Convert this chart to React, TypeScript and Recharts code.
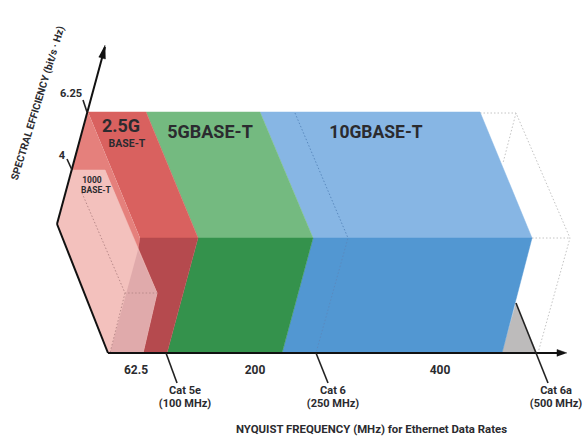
import React from "react";
import {
  ScatterChart,
  Scatter,
  XAxis,
  YAxis,
  ReferenceDot,
} from "recharts";

// outlines of the faces, in diagram units measured from the axes origin
const blueTop = [
  { x: 152, y: 241 },
  { x: 372, y: 241 },
  { x: 424, y: 115 },
  { x: 205, y: 115 },
];
const greenTop = [
  { x: 38, y: 241 },
  { x: 152, y: 241 },
  { x: 205, y: 115 },
  { x: 90, y: 115 },
];
const redTop = [
  { x: -20, y: 241 },
  { x: 38, y: 241 },
  { x: 90, y: 115 },
  { x: 32, y: 115 },
];
const redBand = [
  { x: -20, y: 241 },
  { x: -36, y: 183 },
  { x: -3, y: 183 },
  { x: 30, y: 103 },
  { x: 32, y: 115 },
];
const pinkFace = [
  { x: -36, y: 183 },
  { x: -3, y: 183 },
  { x: 49, y: 60 },
  { x: 35, y: 0 },
  { x: 0, y: 0 },
  { x: -51, y: 129 },
];
const pinkShade = [
  { x: 30, y: 103 },
  { x: 49, y: 60 },
  { x: 35, y: 0 },
  { x: 2, y: 0 },
];
const redFront = [
  { x: 32, y: 115 },
  { x: 90, y: 115 },
  { x: 59, y: 0 },
  { x: 35, y: 0 },
  { x: 49, y: 60 },
  { x: 30, y: 103 },
];
const greenFront = [
  { x: 90, y: 115 },
  { x: 205, y: 115 },
  { x: 174, y: 0 },
  { x: 59, y: 0 },
];
const blueFront = [
  { x: 205, y: 115 },
  { x: 424, y: 115 },
  { x: 394, y: 0 },
  { x: 174, y: 0 },
];
const greyWedge = [
  { x: 408, y: 50 },
  { x: 394, y: 0 },
  { x: 429, y: 0 },
];

const depthAxis = [
  { x: 0, y: 0 },
  { x: -51, y: 129 },
];
const efficiencyAxis = [
  { x: -51, y: 129 },
  { x: -3, y: 306 },
];
const efficiencyArrow = [
  { x: -3, y: 308 },
  { x: -2.6, y: 294 },
  { x: -9.4, y: 296 },
];
const frequencyAxis = [
  { x: 0, y: 0 },
  { x: 455, y: 0 },
];
const frequencyArrow = [
  { x: 459, y: 0 },
  { x: 449, y: 3.5 },
  { x: 449, y: -3.5 },
];

const leaders = [
  [
    { x: 58, y: 0 },
    { x: 69, y: -30 },
  ],
  [
    { x: 208, y: 0 },
    { x: 220, y: -30 },
  ],
  [
    { x: 408, y: 50 },
    { x: 440, y: -30 },
  ],
  [
    { x: -25, y: 253 },
    { x: -21, y: 241 },
  ],
  [
    { x: -41, y: 194 },
    { x: -36, y: 183 },
  ],
];

const pinkDots = [
  [
    { x: -26, y: 160 },
    { x: 17, y: 60 },
    { x: 49, y: 60 },
  ],
  [
    { x: 17, y: 60 },
    { x: 2, y: 0 },
  ],
];
const blueDots = [
  { x: 187, y: 240 },
  { x: 240, y: 115 },
  { x: 208, y: 0 },
];
const greyDots = [
  [
    { x: 372, y: 240 },
    { x: 408, y: 240 },
    { x: 462, y: 115 },
    { x: 430, y: 0 },
  ],
  [
    { x: 424, y: 115 },
    { x: 462, y: 115 },
  ],
  [
    { x: 408, y: 240 },
    { x: 395, y: 190 },
  ],
];

const FONT = "Roboto";
const noDot = () => <g />;

const face = (points, color) => (
  <Scatter
    data={points}
    isAnimationActive={false}
    shape={noDot}
    line={{ fill: color, stroke: color, strokeWidth: 0.5 }}
  />
);

const stroke = (points, color, width, dash?) => (
  <Scatter
    data={points}
    isAnimationActive={false}
    shape={noDot}
    line={{ fill: "none", stroke: color, strokeWidth: width, strokeDasharray: dash }}
  />
);

const note = (x, y, text, size, extra = {}) => (
  <ReferenceDot
    x={x}
    y={y}
    r={0}
    stroke="none"
    ifOverflow="visible"
    label={{
      value: text,
      position: "center",
      fontFamily: FONT,
      fontWeight: 700,
      fontSize: size,
      fill: "#2b2b2f",
      ...extra,
    }}
  />
);

export default function App() {
  return (
    <div style={{ position: "absolute", left: 0, top: 0, width: 585, height: 439, background: "#fff" }}>
      <ScatterChart
        width={585}
        height={439}
        margin={{ top: 0, right: 0, left: 0, bottom: 0 }}
      >
        <XAxis type="number" dataKey="x" domain={[-108, 477]} hide />
        <YAxis type="number" dataKey="y" domain={[-86, 353]} hide />

        {greyDots.map((d) => stroke(d, "#c4c4c4", 1, "1.5 2"))}
        {face(greyWedge, "#bdbbbb")}
        {face(blueTop, "#87b6e4")}
        {face(greenTop, "#74ba80")}
        {face(redTop, "#d9615f")}
        {face(redBand, "#e5807c")}
        {face(blueFront, "#5297d2")}
        {face(greenFront, "#34924c")}
        {face(redFront, "#b54a4e")}
        {face(pinkFace, "#f3c1bd")}
        {face(pinkShade, "#e0aaab")}
        {pinkDots.map((d) => stroke(d, "#b98a8a", 1, "1.5 2"))}
        {stroke(blueDots, "#5a8abf", 1, "1.5 2")}

        {stroke(depthAxis, "#111", 2)}
        {stroke(efficiencyAxis, "#111", 2)}
        {stroke(frequencyAxis, "#111", 2)}
        {face(efficiencyArrow, "#111")}
        {face(frequencyArrow, "#111")}
        {leaders.map((d) => stroke(d, "#222", 1.6))}

        {note(13, 227, "2.5G", 18)}
        {note(19, 210, "BASE-T", 10.5)}
        {note(102, 221, "5GBASE-T", 18)}
        {note(268, 221, "10GBASE-T", 17.5)}
        {note(-16, 173, "1000", 8.5)}
        {note(-12, 163, "BASE-T", 8.5)}
        {note(-37, 260, "6.25", 11)}
        {note(-46, 198, "4", 11)}
        {note(28, -17, "62.5", 12)}
        {note(147, -17, "200", 12)}
        {note(332, -17, "400", 12)}
        {note(77, -37, "Cat 5e", 11)}
        {note(77, -50, "(100 MHz)", 11)}
        {note(225, -37, "Cat 6", 11)}
        {note(225, -50, "(250 MHz)", 11)}
        {note(448, -37, "Cat 6a", 11)}
        {note(448, -50, "(500 MHz)", 11)}
        {note(263.5, -76, "NYQUIST FREQUENCY (MHz) for Ethernet Data Rates", 11.4)}
        {note(-70.5, 250, "SPECTRAL EFFICIENCY (bit/s · Hz)", 10.25, { angle: -73 })}
      </ScatterChart>
    </div>
  );
}
